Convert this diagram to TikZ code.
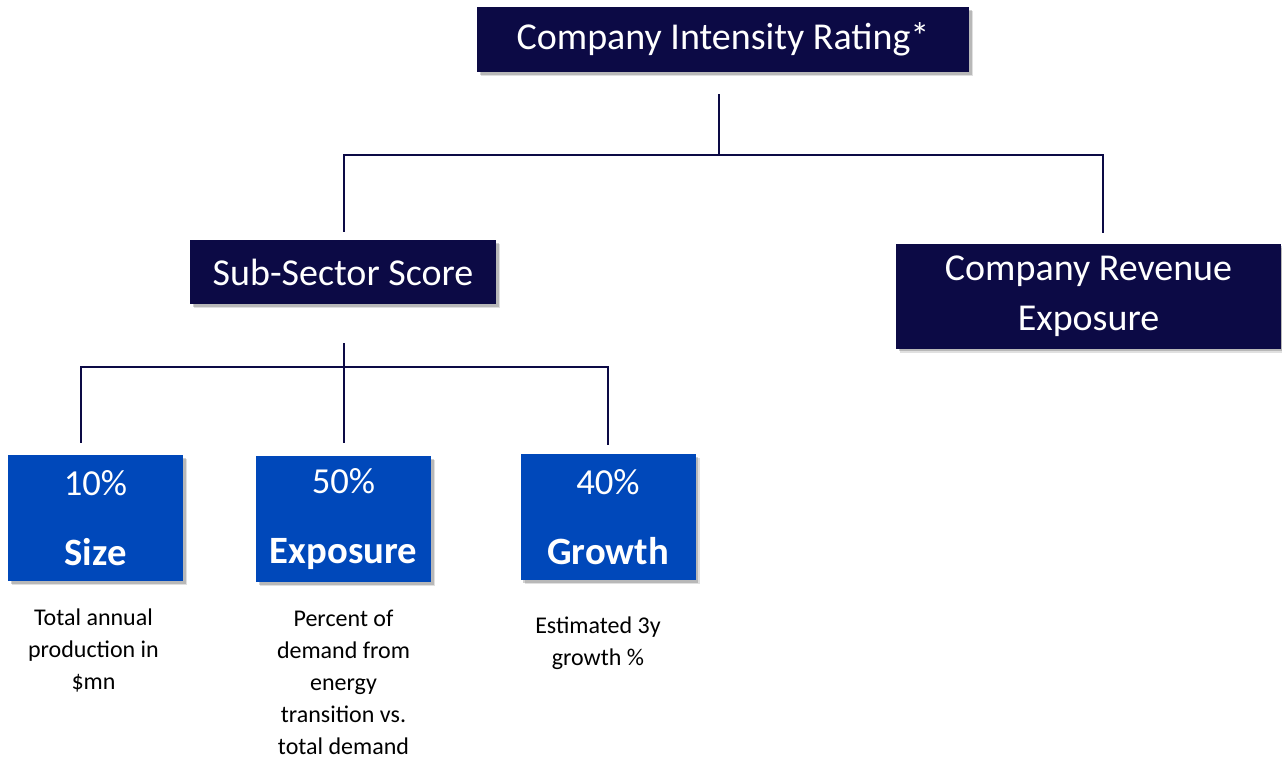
\documentclass[tikz,border=0pt]{standalone}
\usepackage{fontspec}
\setmainfont{Carlito}
\usetikzlibrary{calc,shadows}
\definecolor{navy}{HTML}{0C0A45}
\definecolor{boxblue}{HTML}{0048BA}
\begin{document}
\begin{tikzpicture}[x=0.75pt,y=-0.75pt,
  softshadow/.style={drop shadow={shadow xshift=3pt, shadow yshift=-3pt, fill=black, opacity=0.12},
    drop shadow={shadow xshift=2pt, shadow yshift=-2pt, fill=black, opacity=0.18}},
  darkbox/.style={fill=navy, text=white, inner sep=0pt, anchor=center,
    font=\fontsize{28.5}{37.5}\selectfont, align=center, softshadow},
  bluebox/.style={fill=boxblue, text=white, inner sep=0pt, anchor=center,
    minimum width=131.25pt, minimum height=94.5pt, align=center,
    font=\fontsize{27.5}{52.5}\selectfont, softshadow},
  conn/.style={draw=navy, line width=1.7pt},
  desc/.style={align=center, font=\fontsize{18}{24}\selectfont, inner sep=0pt, anchor=north, text=black}]
\useasboundingbox (0,0) rectangle (1282,760);

\node[darkbox, minimum width=369pt, minimum height=48.75pt] (top) at (723,39.5) {Company Intensity Rating*};
\node[darkbox, minimum width=229.5pt, minimum height=48pt] (sub) at (343,272) {Sub-Sector Score};
\node[darkbox, minimum width=288.75pt, minimum height=78.75pt] (rev) at (1088.5,296) {Company Revenue\\Exposure};

\node[bluebox] (size) at (95.5,518) {10\%\\{\bfseries\fontsize{29}{52.5}\selectfont Size}};
\node[bluebox] (expo) at (343.5,519) {50\%\\{\bfseries\fontsize{29}{52.5}\selectfont Exposure}};
\node[bluebox] (grow) at (608,517) {40\%\\{\bfseries\fontsize{29}{52.5}\selectfont Growth}};

\draw[conn] ($(top.south)+(-4,22)$) -- ($(top.south)+(-4,83)$);
\draw[conn] ($(sub.north)+(1,-8)$) |- ($(rev.north)+(14.5,-88.5)$) -- ($(rev.north)+(14.5,-10.5)$);
\draw[conn] ($(sub.south)+(1,39)$) -- ($(sub.south)+(1,139)$);
\draw[conn] ($(size.north)+(-14.5,-12)$) |- ($(grow.north)+(0,-87)$) -- ($(grow.north)+(0,-9)$);

\node[desc] (d1) at ($(size.south)+(-2,27)$) {Total annual\\production in\\\$mn};
\node[desc] (d2) at ($(expo.south)+(0,28)$) {Percent of\\demand from\\energy\\transition vs.\\total demand};
\node[desc] (d3) at ($(grow.south)+(-10,36)$) {Estimated 3y\\growth \%};
\end{tikzpicture}
\end{document}
